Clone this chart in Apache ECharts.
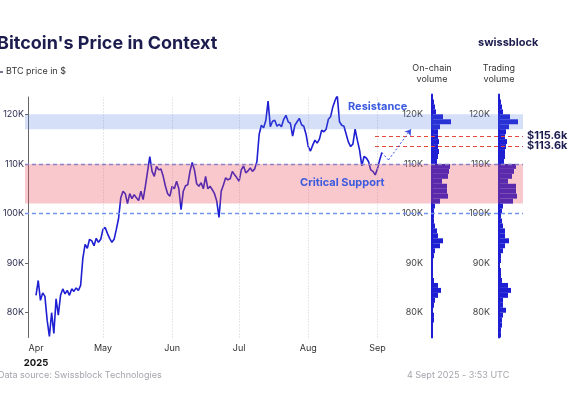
<!DOCTYPE html>
<html>
<head>
<meta charset="utf-8">
<script src="https://cdn.jsdelivr.net/npm/echarts@6/dist/echarts.min.js"></script>
<style>
html, body { margin: 0; padding: 0; background: #fff; }
#chart { width: 584px; height: 399px; }
</style>
</head>
<body>
<div id="chart"></div>
<script>
// BTC daily price (K$), from 1 Apr 2025
var firstDay = '2025-04-01';
var priceK = [
  83.5, 86.5, 82.5, 84.0, 83.3, 78.5, 75.2, 80.0, 75.8, 82.8, 79.5, 83.5, 84.8, 83.8, 84.5,
  83.5, 84.8, 84.3, 85.0, 84.5, 85.5, 91.0, 93.8, 93.0, 94.8, 94.5, 93.5, 95.0, 94.2, 94.8,
  96.8, 97.2, 96.0, 95.0, 94.2, 94.8, 96.8, 99.0, 103.2, 104.5, 104.0, 102.0, 104.0, 103.0, 103.8,
  103.2, 102.6, 104.5, 102.8, 105.5, 108.5, 111.5, 108.5, 107.5, 109.5, 108.8, 109.0, 107.5, 105.5, 104.0, 103.5,
  105.5, 105.0, 106.5, 105.0, 100.8, 104.5, 105.6, 105.8, 108.5, 110.3, 108.8, 106.0, 105.5, 106.2, 105.0,
  107.5, 105.0, 105.5, 104.8, 104.0, 102.5, 99.2, 104.5, 105.8, 107.2, 106.8, 107.0, 108.5, 107.8, 107.2,
  106.5, 108.8, 109.6, 108.2, 108.6, 109.2, 108.5, 109.0, 110.5, 116.0, 117.8, 117.3, 118.8, 122.7, 117.5,
  118.6, 118.8, 117.6, 118.0, 117.5, 119.0, 119.8, 118.5, 118.2, 115.6, 117.8, 118.5, 119.2, 117.9, 117.6, 116.0,
  113.5, 112.6, 113.8, 114.8, 114.2, 115.0, 116.8, 116.5, 117.0, 119.0, 119.5, 121.5, 122.8, 123.8, 118.5,
  117.8, 117.6, 116.0, 114.4, 113.5, 114.0, 117.0, 114.8, 112.8, 109.6, 111.5, 111.2, 110.5, 108.8, 108.5, 107.8,
  109.0, 110.8, 112.3
];

var monthNames = {3: 'Apr', 4: 'May', 5: 'Jun', 6: 'Jul', 7: 'Aug', 8: 'Sep'};
var monthLines = ['2025-05-01', '2025-06-01', '2025-07-01', '2025-08-01', '2025-09-01'];
var priceTicks = [80000, 90000, 100000, 110000, 120000];

// volume profile bins (lower bound, K$), bottom to top
var binsK = [75, 76, 77, 78, 79, 80, 81, 82, 83, 84, 85, 86, 87, 88, 89, 90, 91, 92, 93, 94, 95, 96, 97, 98, 99,
  100, 101, 102, 103, 104, 105, 106, 107, 108, 109, 110, 111, 112, 113, 114, 115, 116, 117, 118, 119, 120, 121, 122, 123];
var onchainVol = [1, 1, 1, 2, 2, 1, 2, 3, 6, 9, 6, 2, 1, 1, 1, 1, 2, 3, 8, 11, 6, 5, 3, 2, 2,
  2, 3, 8, 16, 15, 15, 10, 16, 17, 18, 5, 6, 7, 6, 7, 6, 6, 8, 19, 11, 4, 3, 2, 1];
var tradingVol = [2, 2, 3, 3, 4, 7, 4, 4, 9, 12, 9, 3, 2, 2, 1, 2, 2, 4, 6, 10, 6, 6, 4, 3, 2,
  3, 4, 14, 18, 17, 17, 9, 13, 15, 17, 5, 6, 6, 7, 8, 6, 7, 10, 19, 11, 4, 3, 2, 1];

var supportBand = [102000, 110000];
var resistanceBand = [117000, 120000];
var guideLevels = [110000, 100000];
var targetLevels = [115600, 113600];
var targetFrom = '2025-08-31';
var projection = [['2025-09-03', 112300], ['2025-09-06', 110800], ['2025-09-16', 117000]];

function ts(s) {
  var p = s.split('-');
  return new Date(+p[0], +p[1] - 1, +p[2]).getTime();
}

var DAY = 864e5;
var pxPerDay = 2.25, plotLeft = 25, firstX = 33, mainW = 375, wideW = 498;
var tMin = ts(firstDay) - (firstX - plotLeft) / pxPerDay * DAY;
var tMainMax = tMin + mainW / pxPerDay * DAY;
var tWideMax = tMin + wideW / pxPerDay * DAY;

var priceData = priceK.map(function (v, i) {
  return [ts(firstDay) + i * DAY, v * 1000];
});

var FONT = 'Inter, "Noto Sans", sans-serif';
var NAVY = '#1c1c4e';
var BLUE = '#1e1ed2';
var GUIDE = '#6f95f0';

var chart = echarts.init(document.getElementById('chart'), null, {renderer: 'canvas'});

var markLines = guideLevels.map(function (v) {
  return {yAxis: v, lineStyle: {color: GUIDE, type: [4, 3], width: 1.3}};
});
targetLevels.forEach(function (v) {
  markLines.push([
    {coord: [ts(targetFrom), v], lineStyle: {color: '#e8473e', type: [4, 3], width: 1.2},
      label: {show: true, position: 'end', distance: 4, formatter: '$' + (v / 1000).toFixed(1) + 'k',
        color: NAVY, fontWeight: 'bold', fontSize: 11, fontFamily: FONT}},
    {coord: [tWideMax, v]}
  ]);
});
markLines.push([
  {coord: [ts(projection[1][0]), projection[1][1]], symbol: 'none',
    lineStyle: {color: '#3d4fe0', type: [2, 2], width: 1}},
  {coord: [ts(projection[2][0]), projection[2][1]], symbol: 'arrow', symbolSize: 6}
]);

function bandItem(params, api) {
  var cs = params.coordSys;
  var y1 = api.coord([tMin, api.value(0)])[1];
  var y2 = api.coord([tMin, api.value(1)])[1];
  return {
    type: 'rect',
    shape: {x: cs.x, y: y2, width: cs.width, height: y1 - y2},
    style: {fill: api.value(2) === 1 ? 'rgba(232,72,88,0.30)' : 'rgba(80,120,225,0.24)'}
  };
}

function volLabelAxis(grid) {
  return {
    type: 'value', gridIndex: grid, position: 'left', min: 75000, max: 124000,
    axisLine: {show: true, lineStyle: {color: BLUE, width: 2}},
    axisTick: {show: false},
    splitLine: {show: false},
    axisLabel: {customValues: priceTicks, margin: 9, color: '#444', fontSize: 9, fontFamily: FONT,
      formatter: function (v) { return v / 1000 + 'K'; }}
  };
}

var option = {
  animation: false,
  backgroundColor: '#fff',
  grid: [
    {left: plotLeft, top: 97, width: mainW, height: 240.5},
    {left: plotLeft, top: 97, width: wideW, height: 240.5},
    {left: 432, top: 94.5, width: 30, height: 243},
    {left: 499, top: 94.5, width: 30, height: 243}
  ],
  xAxis: [
    {type: 'time', gridIndex: 0, min: tMin, max: tMainMax, minInterval: 28 * DAY,
      axisLine: {show: false},
      axisTick: {show: false},
      splitLine: {show: false},
      axisLabel: {margin: 6, fontSize: 9, color: '#333', fontFamily: FONT, hideOverlap: false,
        formatter: function (v) {
          var d = new Date(v);
          if (d.getDate() !== 1) return '';
          var m = monthNames[d.getMonth()] || '';
          return d.getMonth() === 3 ? m + '\n{y|' + d.getFullYear() + '}' : m;
        },
        rich: {y: {fontWeight: 'bold', fontSize: 9.5, color: '#111', fontFamily: FONT, lineHeight: 21}}}},
    {type: 'time', gridIndex: 1, min: tMin, max: tWideMax, show: false},
    {type: 'value', gridIndex: 2, min: 0, max: 30, show: false},
    {type: 'value', gridIndex: 3, min: 0, max: 30, show: false}
  ],
  yAxis: [
    {type: 'value', gridIndex: 0, min: 75000, max: 123500,
      axisLine: {show: true, lineStyle: {color: '#666', width: 1}},
      axisTick: {show: true, length: 3, customValues: priceTicks, lineStyle: {color: '#666'}},
      splitLine: {show: false},
      axisLabel: {customValues: priceTicks, margin: 4, color: '#2d2d50', fontSize: 9, fontFamily: FONT,
        formatter: function (v) { return v / 1000 + 'K'; }}},
    {type: 'value', gridIndex: 1, min: 75000, max: 123500, show: false},
    {type: 'category', gridIndex: 2, position: 'left', data: binsK, show: false},
    volLabelAxis(2),
    {type: 'category', gridIndex: 3, position: 'left', data: binsK, show: false},
    volLabelAxis(3)
  ],
  series: [
    {type: 'line', name: 'BTC price in $', xAxisIndex: 0, yAxisIndex: 0, data: priceData,
      showSymbol: false, lineStyle: {color: BLUE, width: 1.6}, z: 3,
      markLine: {silent: true, symbol: ['none', 'none'], label: {show: false},
        lineStyle: {color: '#cfcfd6', type: [1, 2], width: 1},
        data: monthLines.map(function (m) { return {xAxis: ts(m)}; })}},
    {type: 'bar', xAxisIndex: 2, yAxisIndex: 2, data: onchainVol, barCategoryGap: '0%',
      itemStyle: {color: BLUE}, z: 2},
    {type: 'bar', xAxisIndex: 3, yAxisIndex: 4, data: tradingVol, barCategoryGap: '0%',
      itemStyle: {color: BLUE}, z: 2},
    {type: 'custom', xAxisIndex: 1, yAxisIndex: 1, z: 5, silent: true,
      encode: {y: [0, 1]},
      data: [[supportBand[0], supportBand[1], 1], [resistanceBand[0], resistanceBand[1], 0]],
      renderItem: bandItem},
    {type: 'line', xAxisIndex: 1, yAxisIndex: 1, z: 6, silent: true,
      data: projection.slice(0, 2).map(function (p) { return [ts(p[0]), p[1]]; }),
      showSymbol: false, lineStyle: {color: '#3d4fe0', type: [2, 2], width: 1},
      markLine: {silent: true, symbol: ['none', 'none'], label: {show: false},
        data: markLines}}
  ],
  graphic: [
    {type: 'text', left: -3, top: 35, z: 100,
      style: {text: "Bitcoin's Price in Context", fill: NAVY, font: 'bold 18px ' + FONT}},
    {type: 'line', z: 100, shape: {x1: 0, y1: 72, x2: 3, y2: 72}, style: {stroke: NAVY, lineWidth: 1.2}},
    {type: 'text', left: 6, top: 67, z: 100,
      style: {text: 'BTC price in $', fill: '#333', font: '9px ' + FONT}},
    {type: 'text', left: 478, top: 37, z: 100,
      style: {text: 'swissblock', fill: NAVY, font: 'bold 11px ' + FONT}},
    {type: 'text', x: 432, y: 63, z: 100,
      style: {text: 'On-chain\nvolume', fill: '#333', font: '9px ' + FONT, align: 'center', lineHeight: 11}},
    {type: 'text', x: 499, y: 63, z: 100,
      style: {text: 'Trading\nvolume', fill: '#333', font: '9px ' + FONT, align: 'center', lineHeight: 11}},
    {type: 'text', left: 348, top: 101, z: 100,
      style: {text: 'Resistance', fill: '#3b5ade', font: 'bold 11px ' + FONT}},
    {type: 'text', left: 300, top: 177, z: 100,
      style: {text: 'Critical Support', fill: '#3b5ade', font: 'bold 11px ' + FONT}},
    {type: 'text', left: -2, top: 371, z: 100,
      style: {text: 'Data source: Swissblock Technologies', fill: '#a4a4ac', font: '9px ' + FONT}},
    {type: 'text', left: 407, top: 371, z: 100,
      style: {text: '4 Sept 2025 - 3:53 UTC', fill: '#a4a4ac', font: '9px ' + FONT}}
  ]
};

chart.setOption(option);
</script>
</body>
</html>
